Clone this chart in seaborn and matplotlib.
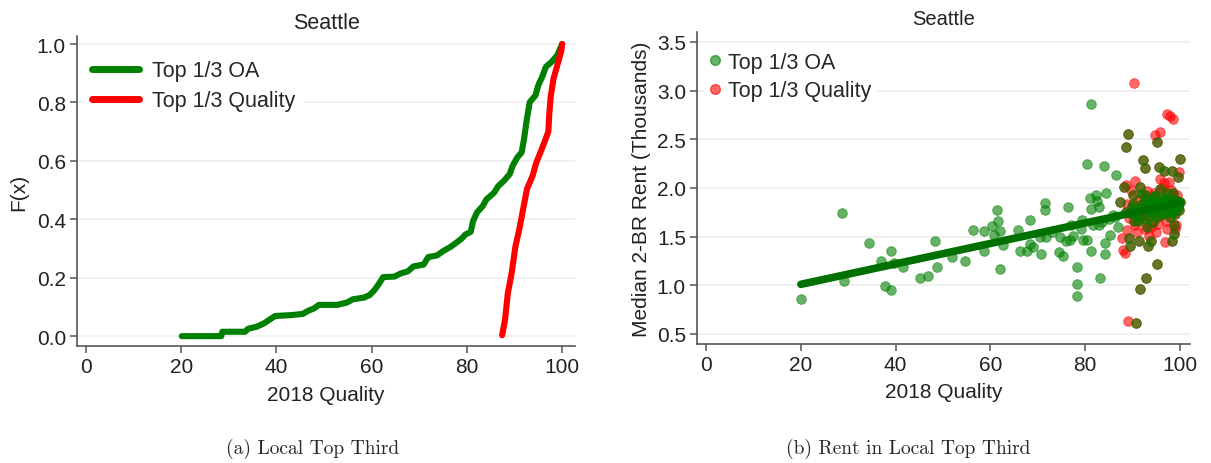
import pandas as pd
import seaborn as sns
import matplotlib.pyplot as plt
from matplotlib.lines import Line2D

# ---- panel (a): cumulative distribution of 2018 quality
oa_cdf_x = [20.1, 28.4, 28.6, 33.4, 34.0, 35.8, 37.4, 38.6, 39.7, 43.1, 45.5, 46.7,
            47.9, 48.9, 52.7, 54.8, 56.0, 58.4, 59.6, 60.6, 61.6, 62.4, 64.8, 66.0,
            67.6, 68.8, 70.9, 71.9, 73.7, 74.9, 76.5, 77.7, 78.9, 79.7, 80.8, 81.3,
            82.1, 83.3, 84.1, 85.7, 86.6, 87.8, 89.0, 89.6, 90.6, 91.5, 92.0, 92.6,
            93.2, 94.4, 95.0, 95.8, 96.6, 97.8, 99.0, 100.0]
oa_cdf_f = [0.0, 0.0, 0.015, 0.015, 0.025, 0.032, 0.044, 0.057, 0.069, 0.072, 0.076, 0.087,
            0.095, 0.107, 0.107, 0.115, 0.126, 0.132, 0.141, 0.158, 0.181, 0.202, 0.204, 0.214,
            0.222, 0.239, 0.245, 0.271, 0.276, 0.290, 0.305, 0.319, 0.334, 0.348, 0.357, 0.394,
            0.423, 0.445, 0.468, 0.491, 0.514, 0.532, 0.555, 0.583, 0.612, 0.629, 0.675, 0.744,
            0.801, 0.824, 0.859, 0.887, 0.922, 0.939, 0.962, 1.0]
qual_cdf_x = [87.4, 88.0, 88.6, 89.4, 90.2, 91.0, 91.8, 92.6, 93.8, 94.6, 95.6, 96.4,
              97.1, 97.3, 97.6, 98.2, 99.0, 99.8, 100.0]
qual_cdf_f = [0.003, 0.055, 0.147, 0.216, 0.308, 0.365, 0.434, 0.503, 0.549, 0.595, 0.635, 0.669,
              0.700, 0.760, 0.820, 0.882, 0.928, 0.974, 1.0]

# ---- panel (b): tract quality vs median 2-BR rent (thousands)
# tracts only in the top third of OA
oa_only_x = [20.1, 28.6, 29.1, 34.4, 36.8, 37.7, 39.0, 39.0, 39.6, 41.6, 45.1, 46.8,
             48.4, 48.8, 51.9, 54.7, 56.4, 58.6, 58.7, 60.3, 60.7, 61.4, 61.5, 62.0,
             62.0, 62.6, 65.8, 66.2, 67.8, 68.4, 68.4, 69.0, 70.6, 71.4, 71.4, 70.4,
             71.8, 74.4, 75.2, 74.7, 76.3, 76.0, 76.8, 77.4, 78.2, 78.2, 78.2, 79.4,
             79.6, 80.4, 80.4, 80.9, 81.1, 81.1, 81.3, 82.3, 82.5, 82.9, 83.2, 84.0,
             84.1, 84.1, 84.3, 85.3, 86.5, 86.9, 81.7, 82.9, 79.0, 85.8, 73.0, 77.0,
             83.5, 85.0, 86.2]
oa_only_y = [0.855, 1.745, 1.04, 1.43, 1.25, 0.995, 0.95, 1.35, 1.225, 1.19, 1.07, 1.095,
             1.45, 1.19, 1.29, 1.25, 1.57, 1.35, 1.56, 1.61, 1.52, 1.77, 1.66, 1.56,
             1.17, 1.41, 1.57, 1.35, 1.35, 1.67, 1.42, 1.39, 1.32, 1.85, 1.77, 1.50,
             1.50, 1.34, 1.30, 1.50, 1.80, 1.46, 1.47, 1.51, 1.19, 1.01, 0.89, 1.67,
             1.47, 1.47, 2.25, 1.90, 2.86, 1.78, 1.35, 1.93, 1.87, 1.80, 1.08, 2.23,
             1.43, 1.32, 1.95, 1.52, 2.13, 1.60, 1.62, 1.62, 1.58, 1.72, 1.55, 1.62,
             1.65, 1.68, 1.70]
# tracts in both groups (green drawn over red)
both_x = [89.1, 88.6, 95.2, 90.0, 88.1, 87.3, 92.1, 92.7, 95.5, 96.5, 98.2, 99.9,
          99.6, 89.2, 89.4, 91.3, 93.2, 93.8, 98.3, 98.7, 98.8, 95.1, 92.8, 91.6,
          90.7, 99.8, 100.0, 95.7, 91.6, 94.1, 88.5, 89.8, 90.8, 91.9, 92.4, 93.0,
          93.6, 94.5, 95.0, 95.8, 96.3, 96.9, 97.5, 98.0, 98.6, 99.2, 99.5, 90.2,
          91.0, 92.0, 93.4, 94.8, 96.0, 97.2, 97.8, 99.0, 89.5, 94.2, 96.6, 98.4,
          90.5, 91.4, 92.2, 92.9, 93.5, 94.0, 94.6, 95.2, 95.9, 96.4, 97.0, 97.6,
          98.2, 98.9, 99.3, 99.7, 91.1, 93.1, 94.3, 95.5, 96.8, 98.5, 99.6, 90.0,
          92.6, 93.3, 94.4, 95.1, 95.7, 96.2, 97.3, 97.9, 98.7, 99.4, 92.5, 94.9,
          96.1]
both_y = [2.55, 2.42, 2.47, 1.93, 2.01, 1.86, 2.29, 2.21, 2.22, 2.17, 2.17, 2.30,
          2.11, 1.49, 1.40, 1.45, 1.40, 1.46, 1.46, 1.53, 1.62, 1.22, 1.07, 0.96,
          0.61, 1.77, 1.86, 1.99, 2.01, 1.89, 1.75, 1.80, 1.72, 1.84, 1.68, 1.78,
          1.86, 1.74, 1.83, 1.77, 1.90, 1.81, 1.85, 1.79, 1.84, 1.88, 1.80, 1.66,
          1.76, 1.94, 1.70, 1.92, 1.72, 1.95, 1.70, 1.82, 1.74, 1.65, 1.87, 1.75,
          1.78, 1.70, 1.82, 1.88, 1.76, 1.84, 1.92, 1.70, 1.86, 1.79, 1.90, 1.76,
          1.88, 1.73, 1.82, 1.86, 1.66, 1.60, 1.80, 1.87, 1.74, 1.95, 1.81, 1.84,
          1.93, 1.83, 1.77, 1.80, 1.83, 1.75, 1.84, 1.80, 1.78, 1.85, 1.79, 1.86,
          1.82]
# tracts only in the top third of quality
qual_only_x = [90.3, 97.2, 97.9, 98.5, 95.7, 94.8, 89.1, 88.3, 87.9, 87.7, 88.7, 89.2,
               90.4, 88.5, 94.9, 96.9, 97.3, 98.9, 99.8, 97.6, 90.5, 93.4, 94.5, 92.5,
               95.7, 98.2, 89.6, 90.9, 91.7, 93.0, 93.9, 96.2, 97.0, 98.0, 99.4, 88.9,
               91.2, 95.3, 96.7, 99.1]
qual_only_y = [3.08, 2.76, 2.74, 2.71, 2.58, 2.54, 0.63, 1.33, 1.36, 1.49, 1.57, 1.69,
               2.07, 2.03, 1.55, 1.44, 1.58, 1.58, 2.16, 2.06, 1.62, 1.51, 1.95, 1.58,
               2.09, 1.91, 1.98, 1.55, 1.70, 1.97, 1.60, 2.00, 1.66, 1.98, 1.93, 1.84,
               1.88, 1.63, 2.05, 1.62]

# fitted line for the OA group
fit_x = [20, 100]
fit_y = [1.01, 1.85]

GREEN = '#008000'
RED = '#ff0000'
GRID = '#ececec'
AXCOL = '#555555'
TXT = '#222222'
FS = 15

sns.set_style('white')
plt.rcParams['font.family'] = ['Liberation Sans', 'DejaVu Sans']

fig = plt.figure(figsize=(12.11, 4.64), dpi=100)
ax1 = fig.add_axes([0.0636, 0.252, 0.4112, 0.668])
ax2 = fig.add_axes([0.5756, 0.2565, 0.4071, 0.6725])


def style_axes(ax):
    for side in ['top', 'right']:
        ax.spines[side].set_visible(False)
    for side in ['left', 'bottom']:
        ax.spines[side].set_color(AXCOL)
        ax.spines[side].set_linewidth(1.2)
    ax.tick_params(axis='both', direction='out', length=5, width=1.1, color=AXCOL,
                   labelsize=FS, labelcolor=TXT, left=True, bottom=True, pad=3)
    ax.yaxis.grid(True, color=GRID, linewidth=1.1)
    ax.xaxis.grid(False)
    ax.set_axisbelow(True)


# panel (a)
cdf = pd.concat([
    pd.DataFrame({'x': oa_cdf_x, 'F': oa_cdf_f, 'group': 'Top 1/3 OA'}),
    pd.DataFrame({'x': qual_cdf_x, 'F': qual_cdf_f, 'group': 'Top 1/3 Quality'}),
])
sns.lineplot(data=cdf, x='x', y='F', hue='group', sort=False, estimator=None,
             palette={'Top 1/3 OA': GREEN, 'Top 1/3 Quality': RED},
             linewidth=4.4, ax=ax1, legend=False)
style_axes(ax1)
ax1.set_xlim(-1.9, 102.7)
ax1.set_ylim(-0.034, 1.027)
ax1.set_xticks([0, 20, 40, 60, 80, 100])
ax1.set_yticks([0, 0.2, 0.4, 0.6, 0.8, 1.0])
ax1.set_yticklabels(['0.0', '0.2', '0.4', '0.6', '0.8', '1.0'])
ax1.set_xlabel('2018 Quality', fontsize=FS, color=TXT, labelpad=6)
ax1.set_ylabel('F(x)', fontsize=FS, color=TXT, labelpad=6)
ax1.set_title('Seattle', fontsize=15.5, color=TXT, pad=6)
h1 = [Line2D([], [], color=GREEN, lw=5), Line2D([], [], color=RED, lw=5)]
ax1.legend(h1, ['Top 1/3 OA', 'Top 1/3 Quality'], loc='upper left', fontsize=15.5,
           frameon=True, facecolor='white', edgecolor='none', framealpha=1,
           handlelength=2.2, handletextpad=0.6, borderaxespad=0.3, labelspacing=0.4,
           bbox_to_anchor=(0.0, 0.97))

# panel (b)
red_pts = pd.DataFrame({'q': qual_only_x + both_x, 'rent': qual_only_y + both_y})
green_pts = pd.DataFrame({'q': oa_only_x + both_x, 'rent': oa_only_y + both_y})
sns.scatterplot(data=red_pts, x='q', y='rent', color=RED, alpha=0.6, s=48,
                edgecolor=RED, linewidth=0.6, ax=ax2)
sns.scatterplot(data=green_pts, x='q', y='rent', color=GREEN, alpha=0.6, s=48,
                edgecolor=GREEN, linewidth=0.6, ax=ax2)
sns.lineplot(x=fit_x, y=fit_y, color='#007000', linewidth=5.5, ax=ax2)
style_axes(ax2)
ax2.set_xlim(-1.9, 102.1)
ax2.set_ylim(0.397, 3.603)
ax2.set_xticks([0, 20, 40, 60, 80, 100])
ax2.set_yticks([0.5, 1.0, 1.5, 2.0, 2.5, 3.0, 3.5])
ax2.set_yticklabels(['0.5', '1.0', '1.5', '2.0', '2.5', '3.0', '3.5'])
ax2.set_xlabel('2018 Quality', fontsize=FS, color=TXT, labelpad=6)
ax2.set_ylabel('Median 2-BR Rent (Thousands)', fontsize=FS, color=TXT, labelpad=4)
ax2.set_title('Seattle', fontsize=14.5, color=TXT, pad=6)
h2 = [Line2D([], [], marker='o', ls='', color=GREEN, alpha=0.6, ms=7),
      Line2D([], [], marker='o', ls='', color=RED, alpha=0.6, ms=7)]
ax2.legend(h2, ['Top 1/3 OA', 'Top 1/3 Quality'], loc='upper left', fontsize=15.5,
           frameon=True, facecolor='white', edgecolor='none', framealpha=1,
           handlelength=0.6, handletextpad=0.3, borderaxespad=0.3, labelspacing=0.35,
           borderpad=0.25, bbox_to_anchor=(0.0, 0.975))

fig.text(0.258, 0.032, '(a) Local Top Third', family='cmr10', fontsize=14,
         ha='center', va='center')
fig.text(0.75, 0.032, '(b) Rent in Local Top Third', family='cmr10', fontsize=14,
         ha='center', va='center')

fig.savefig('out.png', dpi=100)
